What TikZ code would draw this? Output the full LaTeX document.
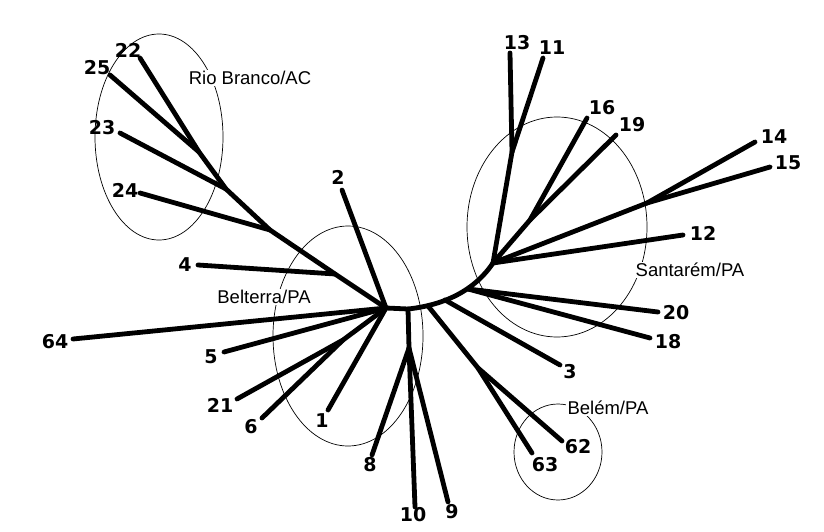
\documentclass[tikz,border=0pt]{standalone}
\usepackage{fontspec}
\setmainfont{Liberation Sans}
\newfontfamily\numfont{DejaVu Sans}
\begin{document}
\begin{tikzpicture}[x=1pt,y=-1pt,
  branch/.style={line width=4.8pt,line cap=round,line join=round},
  ring/.style={line width=0.7pt},
  leaf/.style={font=\numfont\bfseries\fontsize{19}{19}\selectfont,inner sep=0pt},
  region/.style={font=\fontsize{18.5}{18.5}\selectfont,fill=white,inner sep=1.5pt}]
\useasboundingbox (0,0) rectangle (824,532);
\fill[white] (0,0) rectangle (824,532);
% ellipses
\draw[ring] (159,137) ellipse [x radius=64,y radius=103];
\draw[ring] (348,336) ellipse [x radius=75,y radius=110];
\draw[ring] (557,227) ellipse [x radius=90,y radius=110];
\draw[ring] (558,452) ellipse [x radius=44,y radius=48];
\node[region] (rb) at (250,78) {Rio Branco/AC};
\node[region] (bt) at (264,297) {Belterra/PA};
\node[region] (st) at (690,270) {Santarém/PA};
\node[region] (bl) at (608,408) {Belém/PA};
% internal points
\coordinate (HL) at (386,308);
\coordinate (HM) at (408,309);
\coordinate (S) at (493,263);
\coordinate (c62) at (428,306);
\coordinate (c3) at (445,300);
\coordinate (c20) at (468,289);
\coordinate (J4) at (335,274);
\coordinate (R1) at (270,230);
\coordinate (R2) at (226,189);
\coordinate (R3) at (199,152);
\coordinate (J216) at (343,340);
\coordinate (J89) at (409,348);
\coordinate (J6263) at (478,368);
\coordinate (J1311) at (512,152);
\coordinate (J1619) at (530,220);
\coordinate (J1415) at (647,203);
% leaf ends
\coordinate (e22) at (140,58);
\coordinate (e25) at (110,75);
\coordinate (e23) at (120,133);
\coordinate (e24) at (140,193);
\coordinate (e2) at (342,190);
\coordinate (e4) at (198,265);
\coordinate (e64) at (73,339);
\coordinate (e5) at (224,352);
\coordinate (e21) at (237,399);
\coordinate (e6) at (262,418);
\coordinate (e1) at (328,410);
\coordinate (e8) at (372,455);
\coordinate (e10) at (415,507);
\coordinate (e9) at (448,502);
\coordinate (e3) at (560,365);
\coordinate (e62) at (562,441);
\coordinate (e63) at (532,453);
\coordinate (e20) at (658,312);
\coordinate (e18) at (650,338);
\coordinate (e12) at (683,235);
\coordinate (e14) at (755,142);
\coordinate (e15) at (770,167);
\coordinate (e16) at (587,118);
\coordinate (e19) at (616,135);
\coordinate (e13) at (510,53);
\coordinate (e11) at (543,58);
% labels
\node[leaf] (n22) at (128,50) {22};
\node[leaf] (n25) at (97,68) {25};
\node[leaf] (n23) at (102,128) {23};
\node[leaf] (n24) at (125,190) {24};
\node[leaf] (n2) at (338,177) {2};
\node[leaf] (n4) at (185,265) {4};
\node[leaf] (n64) at (55,342) {64};
\node[leaf] (n5) at (211,357) {5};
\node[leaf] (n21) at (220,405) {21};
\node[leaf] (n6) at (251,427) {6};
\node[leaf] (n1) at (322,421) {1};
\node[leaf] (n8) at (370,465) {8};
\node[leaf] (n10) at (413,515) {10};
\node[leaf] (n9) at (452,512) {9};
\node[leaf] (n3) at (570,372) {3};
\node[leaf] (n62) at (578,447) {62};
\node[leaf] (n63) at (545,465) {63};
\node[leaf] (n20) at (676,313) {20};
\node[leaf] (n18) at (668,342) {18};
\node[leaf] (n12) at (703,233) {12};
\node[leaf] (n14) at (774,137) {14};
\node[leaf] (n15) at (788,163) {15};
\node[leaf] (n16) at (602,108) {16};
\node[leaf] (n19) at (632,125) {19};
\node[leaf] (n13) at (517,43) {13};
\node[leaf] (n11) at (552,48) {11};
% branches
\draw[branch] (HL) -- (HM) .. controls (445,305) and (475,290) .. (S);
\draw[branch] (HL) -- (J4) -- (R1) -- (R2) -- (R3) -- (e22);
\draw[branch] (R3) -- (e25);
\draw[branch] (R2) -- (e23);
\draw[branch] (R1) -- (e24);
\draw[branch] (J4) -- (e4);
\draw[branch] (HL) -- (e2);
\draw[branch] (HL) -- (e64);
\draw[branch] (HL) -- (e5);
\draw[branch] (HL) -- (J216) -- (e21);
\draw[branch] (J216) -- (e6);
\draw[branch] (HL) -- (e1);
\draw[branch] (HM) -- (J89) -- (e10);
\draw[branch] (J89) -- (e8);
\draw[branch] (J89) -- (e9);
\draw[branch] (c62) -- (J6263) -- (e62);
\draw[branch] (J6263) -- (e63);
\draw[branch] (c3) -- (e3);
\draw[branch] (c20) -- (e20);
\draw[branch] (c20) -- (e18);
\draw[branch] (S) -- (e12);
\draw[branch] (S) -- (J1415) -- (e14);
\draw[branch] (J1415) -- (e15);
\draw[branch] (S) -- (J1619) -- (e16);
\draw[branch] (J1619) -- (e19);
\draw[branch] (S) -- (J1311) -- (e13);
\draw[branch] (J1311) -- (e11);
\end{tikzpicture}
\end{document}
